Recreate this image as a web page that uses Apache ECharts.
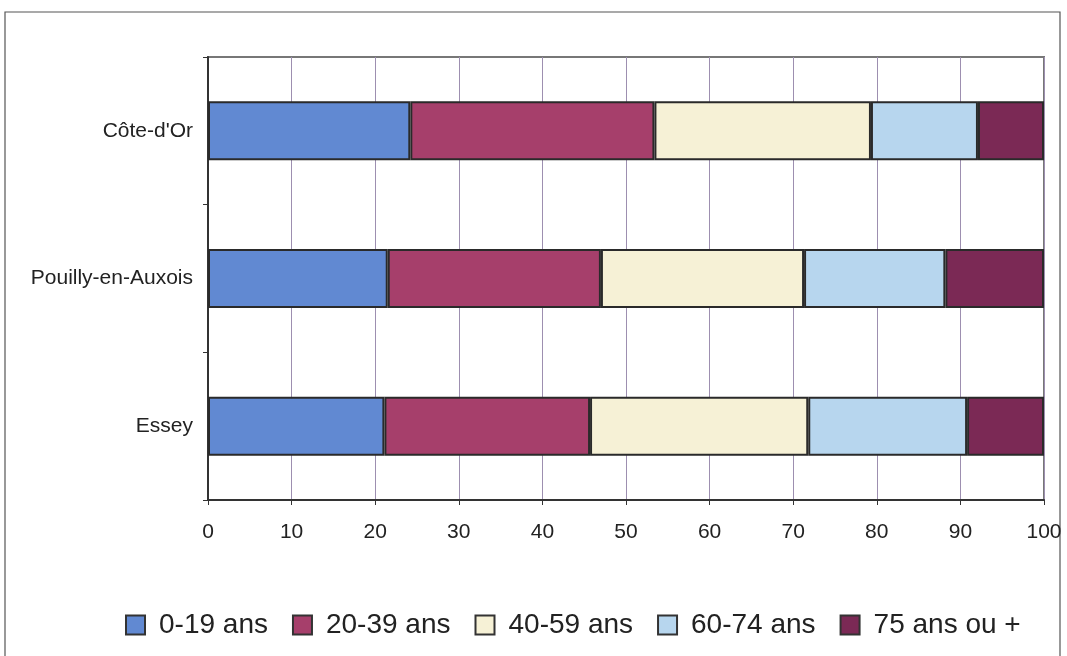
<!DOCTYPE html>
<html>
<head>
<meta charset="utf-8">
<script src="https://cdn.jsdelivr.net/npm/echarts@6/dist/echarts.min.js"></script>
<style>
html,body{margin:0;padding:0;background:#fff;}
#c{width:1067px;height:656px;}
</style>
</head>
<body>
<div id="c"></div>
<script>
const categories = ["Côte-d'Or", "Pouilly-en-Auxois", "Essey"];
const seriesNames = ["0-19 ans", "20-39 ans", "40-59 ans", "60-74 ans", "75 ans ou +"];
const v0_19 = [24.2, 21.5, 21.1];
const v20_39 = [29.2, 25.5, 24.6];
const v40_59 = [25.9, 24.3, 26.1];
const v60_74 = [12.8, 16.9, 19.0];
const v75 = [7.9, 11.8, 9.2];
const xTicks = [0, 10, 20, 30, 40, 50, 60, 70, 80, 90, 100];

const colors = ['#6189d2', '#a63f6b', '#f6f1d6', '#b7d6ee', '#7b2955'];
const values = [v0_19, v20_39, v40_59, v60_74, v75];

const chart = echarts.init(document.getElementById('c'));
chart.setOption({
  animation: false,
  backgroundColor: '#fff',
  textStyle: { fontFamily: 'Liberation Sans, Arial, sans-serif' },
  graphic: [{
    type: 'rect',
    shape: { x: 5, y: 12, width: 1055, height: 700 },
    style: { fill: 'none', stroke: '#555', lineWidth: 1.2 },
    silent: true
  }],
  grid: {
    left: 208, right: 23, top: 57, bottom: 156,
    show: true, borderColor: '#777', borderWidth: 2, backgroundColor: '#fff'
  },
  xAxis: {
    type: 'value', min: 0, max: 100, interval: 10,
    axisLine: { show: true, onZero: false, lineStyle: { color: '#333', width: 2 } },
    axisTick: { show: true, length: 5, lineStyle: { color: '#333' } },
    axisLabel: { fontSize: 21, color: '#222', margin: 22,
      formatter: function (v) { return xTicks.indexOf(v) >= 0 ? String(v) : ''; } },
    splitLine: { show: true, lineStyle: { color: '#9d8fb0', width: 1 } }
  },
  yAxis: {
    type: 'category', data: categories, inverse: true,
    axisLine: { show: true, lineStyle: { color: '#333', width: 2 } },
    axisTick: { show: true, length: 5, lineStyle: { color: '#333' } },
    axisLabel: { fontSize: 21, color: '#222', margin: 15 },
    splitLine: { show: false }
  },
  legend: {
    top: 606, left: 120,
    itemWidth: 19, itemHeight: 19, itemGap: 24,
    icon: 'rect',
    textStyle: { fontSize: 28, color: '#222', fontFamily: 'Liberation Sans, Arial, sans-serif', padding: [0, 0, 0, 9] },
    itemStyle: { borderColor: '#333', borderWidth: 2 },
    data: seriesNames
  },
  series: seriesNames.map(function (name, i) {
    return {
      name: name, type: 'bar', stack: 'total',
      data: values[i],
      barWidth: 59,
      itemStyle: { color: colors[i], borderColor: '#2a2a2a', borderWidth: 2 }
    };
  })
});
</script>
</body>
</html>
